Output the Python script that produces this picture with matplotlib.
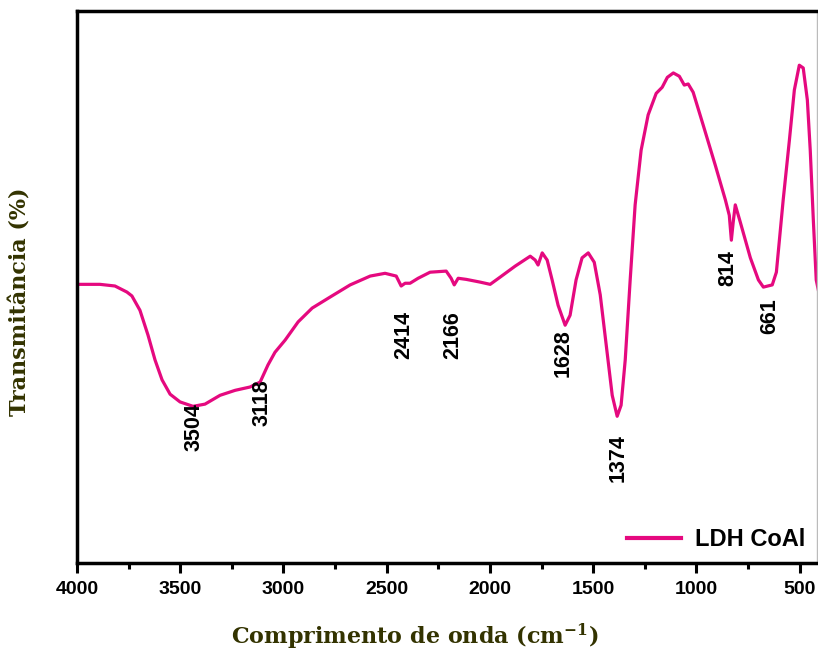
import matplotlib.pyplot as plt
from matplotlib.lines import Line2D

# FTIR spectrum (wavenumber in cm-1, transmittance in a.u.)
wavenumber = [4000, 3889, 3816, 3758, 3734, 3695, 3656, 3622, 3588, 3549,
              3501, 3438, 3380, 3307, 3234, 3162, 3113, 3075, 3041, 2992,
              2929, 2861, 2774, 2677, 2580, 2508, 2454, 2430, 2411, 2387,
              2348, 2290, 2212, 2188, 2173, 2154, 2115, 2047, 1999, 1951,
              1878, 1805, 1781, 1767, 1747, 1723, 1699, 1670, 1636, 1612,
              1583, 1554, 1524, 1495, 1466, 1437, 1408, 1384, 1365, 1345,
              1321, 1297, 1268, 1234, 1195, 1166, 1141, 1112, 1083, 1059,
              1040, 1016, 967, 909, 860, 841, 831, 822, 812, 788,
              739, 700, 676, 633, 613, 580, 550, 526, 502, 483,
              463, 449, 434, 420, 410]
transmittance = [50.5, 50.5, 50.2, 49.1, 48.4, 45.8, 41.3, 36.8, 33.2, 30.6,
                 29.2, 28.4, 28.8, 30.4, 31.3, 31.9, 32.8, 35.9, 38.2, 40.4,
                 43.7, 46.2, 48.2, 50.4, 52.0, 52.5, 52.0, 50.2, 50.7, 50.7,
                 51.6, 52.7, 52.9, 51.6, 50.4, 51.6, 51.4, 50.9, 50.5, 51.8,
                 53.8, 55.6, 54.9, 54.0, 56.2, 54.9, 51.3, 46.7, 43.1, 44.9,
                 51.3, 55.3, 56.2, 54.5, 48.6, 39.5, 30.4, 26.6, 28.6, 36.8,
                 51.3, 64.9, 74.8, 81.2, 85.1, 86.2, 88.0, 88.8, 88.2, 86.6,
                 86.8, 85.3, 79.3, 72.1, 65.8, 63.0, 58.5, 61.8, 64.9, 61.8,
                 55.3, 51.3, 50.0, 50.4, 52.7, 65.8, 76.6, 85.7, 90.2, 89.7,
                 83.9, 74.8, 62.1, 51.3, 49.5]

# peak labels and where they sit
peak_labels = ["3504", "3118", "2414", "2166", "1628", "1374", "814", "661"]
label_x = [3433, 3104, 2416, 2178, 1645, 1379, 846, 647]
label_y = [24.6, 29.0, 41.3, 41.3, 38.0, 19.0, 53.4, 44.7]

line_color = "#e5097f"
label_color = "#333300"

fig = plt.figure(figsize=(8.18, 6.54), dpi=100)
ax = fig.add_axes([0.0941, 0.139, 0.905, 0.844])

ax.plot(wavenumber, transmittance, color=line_color, lw=2.3, label="LDH CoAl")

for txt, x, y in zip(peak_labels, label_x, label_y):
    ax.text(x, y, txt, rotation=90, ha="center", va="center",
            fontsize=15.5, fontweight="bold", family="Liberation Sans")

ax.set_xlim(4000, 415)
ax.set_ylim(0, 100)
ax.set_xticks([4000, 3500, 3000, 2500, 2000, 1500, 1000, 500])
ax.set_xticks([3750, 3250, 2750, 2250, 1750, 1250, 750], minor=True)
ax.set_yticks([])
ax.tick_params(axis="x", which="major", direction="out", length=7, width=2.2,
               labelsize=14, pad=6)
ax.tick_params(axis="x", which="minor", direction="out", length=4, width=2.2)
for lab in ax.get_xticklabels():
    lab.set_fontweight("bold")
    lab.set_family("Liberation Sans")

for side in ["left", "top", "bottom"]:
    ax.spines[side].set_linewidth(2.5)
ax.spines["right"].set_color("#bbbbbb")
ax.spines["right"].set_linewidth(1)

# axis titles placed as figure text (the reference has them off-centre)
plt.rcParams["mathtext.default"] = "regular"
fig.text(0.507, 0.026, "Comprimento de onda (cm$^{-1}$)", fontsize=16,
         fontweight="bold", family="DejaVu Serif", color=label_color,
         ha="center", va="center")
fig.text(0.025, 0.538, "Transmitância (%)", fontsize=16, rotation=90,
         fontweight="bold", family="DejaVu Serif", color=label_color,
         ha="center", va="center")

ax.legend(handles=[Line2D([], [], color=line_color, lw=3)], labels=["LDH CoAl"],
          loc="lower right", frameon=False, handlelength=2.3, handletextpad=0.6,
          borderaxespad=0.1, bbox_to_anchor=(1.0, 0.0),
          prop={"family": "Liberation Sans", "weight": "bold", "size": 17})

fig.savefig("out.png", dpi=100)
